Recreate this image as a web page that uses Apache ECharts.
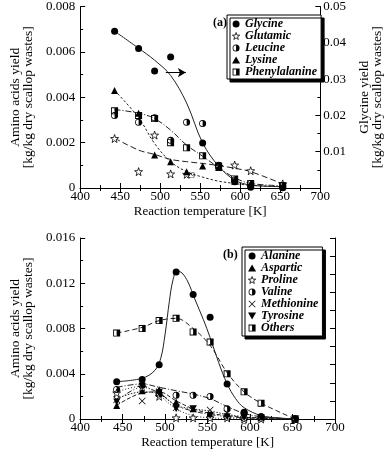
<!DOCTYPE html>
<html>
<head>
<meta charset="utf-8">
<script src="https://cdn.jsdelivr.net/npm/echarts@6/dist/echarts.min.js"></script>
<style>html,body{margin:0;padding:0;background:#fff}#c{width:392px;height:451px}</style>
</head>
<body>
<div id="c"></div>
<script>
// ---- data ----
const temps = [443, 473, 493, 513, 533, 553, 573, 593, 613, 653];
// panel (a)
const glycine = [0.0432, 0.0384, 0.0322, 0.0361, null, 0.0124, 0.0063, 0.0017, 0.0002, 0.0001];
const glutamic = [0.00218, 0.00072, 0.00233, 0.00062, 0.0006, null, 0.00095, 0.00101, 0.00076, 0.00018];
const leucine = [0.0032, 0.0029, 0.0031, 0.0021, 0.0029, 0.00284, 0.00097, 0.00035, 0.0002, 0.0001];
const lysine = [0.0043, 0.0033, 0.00145, 0.00116, 0.00072, 0.00097, 0.0009, 0.0003, 0.0002, 0.0001];
const phenylalanine = [0.0034, 0.0032, 0.00306, 0.0020, 0.00177, 0.00142, 0.00097, 0.0004, 0.0002, 0.0001];
// fitted curves (a), read at temps
const glycineFit = [0.0432, 0.0385, 0.0352, 0.0310, 0.0234, 0.0124, 0.0060, 0.0022, 0.0008, 0.0004];
const glutamicFit = [0.0022, 0.00167, 0.00148, 0.00126, 0.00116, 0.00108, 0.00099, 0.00087, 0.00072, 0.00018];
const lysineFit = [0.0043, 0.0031, 0.00196, 0.00116, 0.00072, 0.00048, 0.0003, 0.0002, 0.00012, 0.00005];
const phenylalanineFit = [0.00346, 0.00330, 0.00306, 0.00255, 0.00189, 0.00140, 0.00090, 0.00045, 0.0002, 0.0001];
// panel (b)
const alanine = [0.0033, 0.0035, 0.0048, 0.0130, 0.0110, 0.0090, 0.0031, 0.0006, 0.0002, 0.0000];
const aspartic = [0.0012, 0.0025, 0.0026, 0.0015, 0.0009, 0.0004, 0.0003, 0.0001, 0.0001, 0.0000];
const proline = [0.0023, 0.0028, 0.0020, 0.0001, 0.0001, 0.0001, 0.0001, 0.0000, 0.0000, 0.0000];
const valine = [0.0026, 0.0030, 0.0022, 0.0021, 0.0021, 0.0020, 0.0009, 0.0005, 0.0002, 0.0000];
const methionine = [0.0017, 0.0016, 0.0024, 0.0010, 0.0009, 0.0008, 0.0005, 0.0002, 0.0001, 0.0000];
const tyrosine = [0.0015, 0.0029, 0.0023, 0.0009, 0.0009, 0.0003, 0.0002, 0.0001, 0.0001, 0.0000];
const others = [0.0076, 0.0080, 0.0087, 0.0089, 0.0077, 0.0068, 0.0040, 0.0024, 0.0014, 0.0000];
// fitted curves (b)
const alanineFitT = [443, 473, 488, 495, 500, 505, 509, 514, 520, 527, 535, 545, 553, 563, 573, 583, 593, 613, 633, 653];
const alanineFit = [0.0033, 0.0036, 0.0043, 0.0054, 0.0075, 0.0104, 0.0122, 0.0131, 0.0129, 0.0121, 0.0106, 0.0088, 0.0072, 0.0050, 0.0031, 0.0018, 0.0010, 0.0003, 0.0001, 0.0000];
const othersFit = [0.0076, 0.0081, 0.0087, 0.0089, 0.0080, 0.0065, 0.0041, 0.0024, 0.0014, 0.0000];
const valineFit = [0.0028, 0.0031, 0.0028, 0.0025, 0.0022, 0.0018, 0.0011, 0.0005, 0.0002, 0.0000];
const prolineFit = [0.0024, 0.0029, 0.0021, 0.0009, 0.0003, 0.0001, 0.00005, 0.0000, 0.0000, 0.0000];
const asparticFit = [0.0012, 0.0023, 0.0024, 0.0016, 0.0009, 0.0005, 0.0003, 0.00015, 0.0001, 0.0000];
const tyrosineFit = [0.0016, 0.0028, 0.0023, 0.0012, 0.0007, 0.0004, 0.0002, 0.0001, 0.00005, 0.0000];
const methionineFit = [0.0018, 0.0024, 0.0022, 0.0012, 0.0009, 0.0007, 0.0004, 0.0002, 0.0001, 0.0000];
// ticks
const xTicks = { min: 400, max: 700, step: 50 };
const arrowFrom = [507, 0.0318], arrowTo = [532, 0.0318];

// ---- symbols ----
const SYM_STAR = 'path://M0,-10 L2.35,-3.24 L9.51,-3.09 L3.8,1.24 L5.88,8.09 L0,4 L-5.88,8.09 L-3.8,1.24 L-9.51,-3.09 L-2.35,-3.24 Z';
const SYM_HCIRC = 'path://M0,-10 A10,10 0 1,1 0,10 A10,10 0 1,1 0,-10 Z M0,-7.8 A7.8,7.8 0 1,0 0,7.8 A7.8,7.8 0 1,0 0,-7.8 Z M0,-10 A10,10 0 0,1 0,10 Z';
const SYM_HSQ = 'path://M-10,-10 L10,-10 L10,10 L-10,10 Z M-7.5,-7.5 L-7.5,7.5 L7.5,7.5 L7.5,-7.5 Z M0,-10 L10,-10 L10,10 L0,10 Z';
const SYM_X = 'path://M-10,-8.5 L-8.5,-10 L0,-1.5 L8.5,-10 L10,-8.5 L1.5,0 L10,8.5 L8.5,10 L0,1.5 L-8.5,10 L-10,8.5 L-1.5,0 Z';
const SYM_TDOWN = 'path://M-10,-8 L10,-8 L0,9 Z';

const FONT = 'Liberation Serif';
const OPEN = { color: '#fff', borderColor: '#000', borderWidth: 0.8 };
const pairs = (xs, ys) => xs.map((x, i) => [x, ys[i]]).filter(p => p[1] !== null);

function xAxisDef(grid, top) {
  return {
    type: 'value', gridIndex: grid, min: xTicks.min, max: xTicks.max, interval: xTicks.step,
    position: top ? 'top' : 'bottom',
    name: top ? '' : 'Reaction temperature [K]', nameLocation: 'middle', nameGap: 17,
    nameTextStyle: { fontFamily: FONT, fontSize: 13, color: '#000' },
    axisLine: { show: true, lineStyle: { color: '#000', width: 1 } },
    axisTick: { show: true, inside: true, length: 5, lineStyle: { color: '#000' } },
    minorTick: { show: true, splitNumber: 2, length: 3, lineStyle: { color: '#000' } },
    axisLabel: { show: !top, fontFamily: FONT, fontSize: 13, color: '#000', margin: 2 },
    splitLine: { show: false }
  };
}
function yAxisDef(grid, opt) {
  return Object.assign({
    type: 'value', gridIndex: grid, min: 0,
    nameLocation: 'middle', nameRotate: 90,
    nameTextStyle: { fontFamily: FONT, fontSize: 13.5, color: '#000', lineHeight: 13 },
    axisLine: { show: true, lineStyle: { color: '#000', width: 1 } },
    axisTick: { show: true, inside: true, length: 5, lineStyle: { color: '#000' } },
    minorTick: { show: true, splitNumber: 2, length: 3, lineStyle: { color: '#000' } },
    axisLabel: { fontFamily: FONT, fontSize: 13, color: '#000', margin: 4 },
    splitLine: { show: false }
  }, opt);
}

function scatter(name, xi, yi, data, symbol, size, style) {
  return {
    name, type: 'scatter', xAxisIndex: xi, yAxisIndex: yi, data: pairs(temps, data),
    symbol, symbolSize: size, z: 5,
    itemStyle: Object.assign({ color: '#000', borderWidth: 0, opacity: 1 }, style || {})
  };
}
function fit(xi, yi, xs, ys, type, width) {
  return {
    type: 'line', xAxisIndex: xi, yAxisIndex: yi, data: pairs(xs, ys),
    symbol: 'none', showSymbol: false, smooth: 0.35, z: 3, silent: true,
    lineStyle: { color: '#222', width: width || 1, type: type }
  };
}

const legendCommon = {
  orient: 'vertical', itemWidth: 8, itemHeight: 7, itemGap: 0, itemTextGap: 8,
  backgroundColor: '#fff', borderColor: '#000', borderWidth: 1, borderRadius: 0,
  shadowColor: '#000', shadowBlur: 0, shadowOffsetX: 3, shadowOffsetY: 3,
  selectedMode: false
};
const legendText = (lh) => ({ fontFamily: FONT, fontSize: 12, fontStyle: 'italic', fontWeight: 'bold', color: '#000', lineHeight: lh });

const chart = echarts.init(document.getElementById('c'), null, { renderer: 'canvas' });
chart.setOption({
  animation: false,
  backgroundColor: '#fff',
  grid: [
    { left: 67, top: 6, width: 267, height: 182 },
    { left: 67, top: 238, width: 268, height: 181 }
  ],
  xAxis: [xAxisDef(0, false), xAxisDef(0, true), xAxisDef(1, false), xAxisDef(1, true)],
  yAxis: [
    yAxisDef(0, { max: 0.008, interval: 0.002, name: 'Amino acids yield\n[kg/kg dry scallop wastes]', nameGap: 33,
      axisLabel: { fontFamily: FONT, fontSize: 13, color: '#000', margin: 5, formatter: v => v === 0 ? '0' : v.toFixed(3) } }),
    yAxisDef(0, { max: 0.05, interval: 0.01, position: 'right', name: 'Glycine yield\n[kg/kg dry scallop wastes]', nameGap: 32,
      axisLabel: { fontFamily: FONT, fontSize: 13, color: '#000', margin: 3, formatter: v => v === 0 ? '' : v.toFixed(2) } }),
    yAxisDef(1, { max: 0.016, interval: 0.004, name: 'Amino acids yield\n[kg/kg dry scallop wastes]', nameGap: 33,
      axisLabel: { fontFamily: FONT, fontSize: 13, color: '#000', margin: 5, formatter: v => v === 0 ? '0' : v.toFixed(3) } }),
    yAxisDef(1, { max: 0.016, interval: 0.0016, position: 'right', axisLabel: { show: false }, minorTick: { show: false } })
  ],
  legend: [
    Object.assign({}, legendCommon, { left: 227, top: 15, padding: [3, 4, 1, 5], textStyle: legendText(11),
      data: ['Glycine', { name: 'Glutamic', itemStyle: OPEN }, 'Leucine', 'Lysine', 'Phenylalanine'] }),
    Object.assign({}, legendCommon, { left: 242, top: 247, padding: [3, 4, 2, 6], textStyle: legendText(11.8),
      data: ['Alanine', 'Aspartic', { name: 'Proline', itemStyle: OPEN }, 'Valine', 'Methionine', 'Tyrosine', 'Others'] })
  ],
  graphic: [
    { type: 'text', left: 213, top: 17, style: { text: '(a)', font: 'bold 12px "Liberation Serif"', fill: '#000' } },
    { type: 'text', left: 223, top: 249, style: { text: '(b)', font: 'bold 12px "Liberation Serif"', fill: '#000' } },
    { type: 'text', left: 187, top: 172, style: { text: '29', font: '8px "Liberation Serif"', fill: '#000' } }
  ],
  series: [
    // panel (a) fits
    Object.assign(fit(0, 1, temps, glycineFit, 'solid', 1), {
      markLine: { silent: true, symbol: ['none', 'arrow'], symbolSize: [7, 8], animation: false,
        label: { show: false }, lineStyle: { color: '#000', width: 1, type: 'solid' },
        data: [[{ coord: arrowFrom }, { coord: arrowTo }]] }
    }),
    fit(0, 0, temps, glutamicFit, [6, 3]),
    fit(0, 0, temps, lysineFit, [2.5, 2]),
    fit(0, 0, temps, phenylalanineFit, [6, 2, 1, 2]),
    // panel (a) markers
    scatter('Glycine', 0, 1, glycine, 'circle', 7),
    scatter('Glutamic', 0, 0, glutamic, SYM_STAR, 8, OPEN),
    scatter('Leucine', 0, 0, leucine, SYM_HCIRC, 7),
    scatter('Lysine', 0, 0, lysine, 'triangle', 7),
    scatter('Phenylalanine', 0, 0, phenylalanine, SYM_HSQ, 7),
    // panel (b) fits
    fit(2, 2, alanineFitT, alanineFit, 'solid', 1),
    fit(2, 2, temps, othersFit, [5, 3]),
    fit(2, 2, temps, valineFit, [6, 2, 1, 2]),
    fit(2, 2, temps, prolineFit, [1, 2]),
    fit(2, 2, temps, asparticFit, [4, 2]),
    fit(2, 2, temps, tyrosineFit, [5, 2, 1, 2, 1, 2]),
    fit(2, 2, temps, methionineFit, [1.5, 1.5]),
    // panel (b) markers
    scatter('Alanine', 2, 2, alanine, 'circle', 7),
    scatter('Aspartic', 2, 2, aspartic, 'triangle', 7),
    scatter('Proline', 2, 2, proline, SYM_STAR, 8, OPEN),
    scatter('Valine', 2, 2, valine, SYM_HCIRC, 7),
    scatter('Methionine', 2, 2, methionine, SYM_X, 7),
    scatter('Tyrosine', 2, 2, tyrosine, SYM_TDOWN, 7),
    scatter('Others', 2, 2, others, SYM_HSQ, 7)
  ]
});
</script>
</body>
</html>
